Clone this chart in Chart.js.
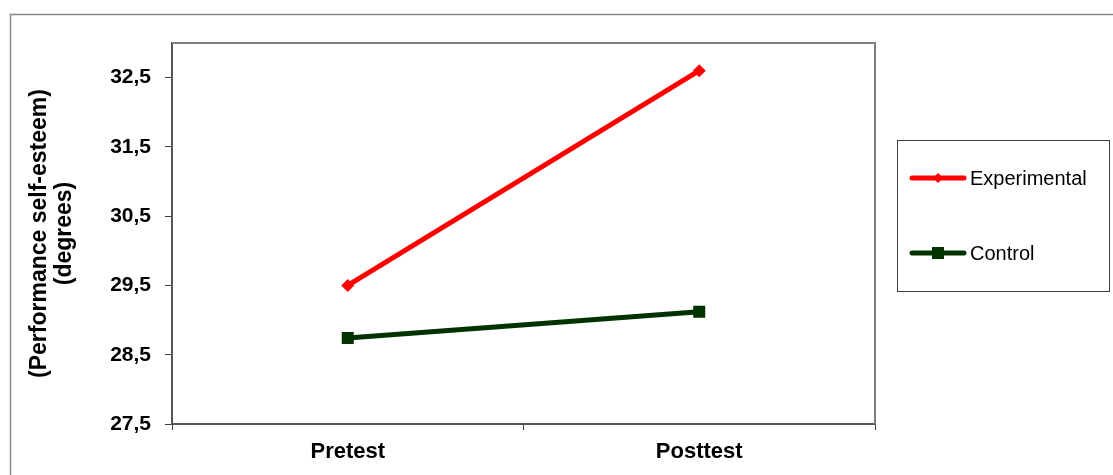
<!DOCTYPE html>
<html>
<head>
<meta charset="utf-8">
<title>Performance self-esteem</title>
<script src="https://cdn.jsdelivr.net/npm/chart.js@4/dist/chart.umd.min.js"></script>
<style>
  html, body { margin: 0; padding: 0; background: #fff; }
  #wrap { width: 1113px; height: 475px; position: relative; }
</style>
</head>
<body>
<div id="wrap"><canvas id="selfEsteemChart"></canvas></div>
<script>
// measurement points and group means
const phases = ['Pretest', 'Posttest'];
const experimental = [29.5, 32.6];
const control = [28.74, 29.12];
const yTickValues = [27.5, 28.5, 29.5, 30.5, 31.5, 32.5];
const yTitle = ['(Performance self-esteem)', '(degrees)'];

// outer frame + top/right edges of the plot box
const framePlugin = {
  id: 'frame',
  beforeDraw(chart) {
    const c = chart.ctx;
    c.save();
    c.strokeStyle = '#8a8a8a';
    c.lineWidth = 1.5;
    c.beginPath();
    c.moveTo(10.5, 475);
    c.lineTo(10.5, 14.5);
    c.lineTo(1113, 14.5);
    c.stroke();
    c.restore();
  },
  afterDatasetsDraw(chart) {
    const a = chart.chartArea;
    const c = chart.ctx;
    c.save();
    c.strokeStyle = '#808080';
    c.lineWidth = 2;
    c.beginPath();
    c.moveTo(a.left, a.top);
    c.lineTo(a.right, a.top);
    c.lineTo(a.right, a.bottom);
    c.stroke();
    c.restore();
  }
};

// boxed legend to the right of the plot
const legendMarker = { rectRot: 5, rect: 8.5 };
const boxLegend = {
  id: 'boxLegend',
  afterDraw(chart) {
    const c = chart.ctx;
    const box = { x: 897.5, y: 140.5, w: 212, h: 151 };
    c.save();
    c.strokeStyle = '#404040';
    c.lineWidth = 1;
    c.strokeRect(box.x, box.y, box.w, box.h);
    c.font = '20px "Liberation Sans", Arial, sans-serif';
    c.textBaseline = 'middle';
    const rows = [178, 253];
    chart.data.datasets.forEach((ds, i) => {
      const y = rows[i];
      c.strokeStyle = ds.borderColor;
      c.lineWidth = ds.borderWidth;
      c.lineCap = 'round';
      c.beginPath();
      c.moveTo(912, y);
      c.lineTo(964, y);
      c.stroke();
      c.fillStyle = ds.borderColor;
      Chart.helpers.drawPoint(c, {
        pointStyle: ds.pointStyle,
        radius: legendMarker[ds.pointStyle],
        rotation: 0,
        borderWidth: 0
      }, 938, y);
      c.fillStyle = '#000';
      c.fillText(ds.label, 970, y + 1);
    });
    c.restore();
  }
};

new Chart(document.getElementById('selfEsteemChart'), {
  type: 'line',
  data: {
    labels: phases,
    datasets: [
      {
        label: 'Experimental',
        data: experimental,
        borderColor: '#ff0000',
        backgroundColor: '#ff0000',
        borderWidth: 5,
        pointStyle: 'rectRot',
        pointRadius: 6.5,
        pointBorderWidth: 0
      },
      {
        label: 'Control',
        data: control,
        borderColor: '#003300',
        backgroundColor: '#003300',
        borderWidth: 5,
        pointStyle: 'rect',
        pointRadius: 8.5,
        pointBorderWidth: 0
      }
    ]
  },
  options: {
    responsive: true,
    maintainAspectRatio: false,
    animation: false,
    layout: { padding: { top: 43, right: 238, bottom: 0, left: 10 } },
    plugins: {
      legend: { display: false },
      tooltip: { enabled: false }
    },
    scales: {
      x: {
        offset: true,
        grid: {
          offset: true,
          drawOnChartArea: false,
          drawTicks: true,
          tickLength: 6,
          color: '#404040'
        },
        border: { display: true, color: '#555', width: 2 },
        ticks: {
          color: '#000',
          padding: 9,
          font: { family: '"Liberation Sans", Arial', size: 22, weight: 'bold' }
        },
        afterFit(scale) { scale.height = 51; }
      },
      y: {
        min: 27.5,
        max: 33,
        afterBuildTicks(scale) {
          scale.ticks = yTickValues.map(v => ({ value: v }));
        },
        grid: {
          drawOnChartArea: false,
          drawTicks: true,
          tickLength: 7,
          color: '#404040'
        },
        border: { display: true, color: '#555', width: 2 },
        ticks: {
          color: '#000',
          padding: 14,
          font: { family: '"Liberation Sans", Arial', size: 21, weight: 'bold' },
          callback: v => v.toFixed(1).replace('.', ',')
        },
        title: {
          display: true,
          text: yTitle,
          color: '#000',
          padding: { top: 17, bottom: 0 },
          font: { family: '"Liberation Sans", Arial', size: 23, weight: 'bold', lineHeight: 1.1 }
        },
        afterFit(scale) { scale.width = 162; }
      }
    }
  },
  plugins: [framePlugin, boxLegend]
});
</script>
</body>
</html>
